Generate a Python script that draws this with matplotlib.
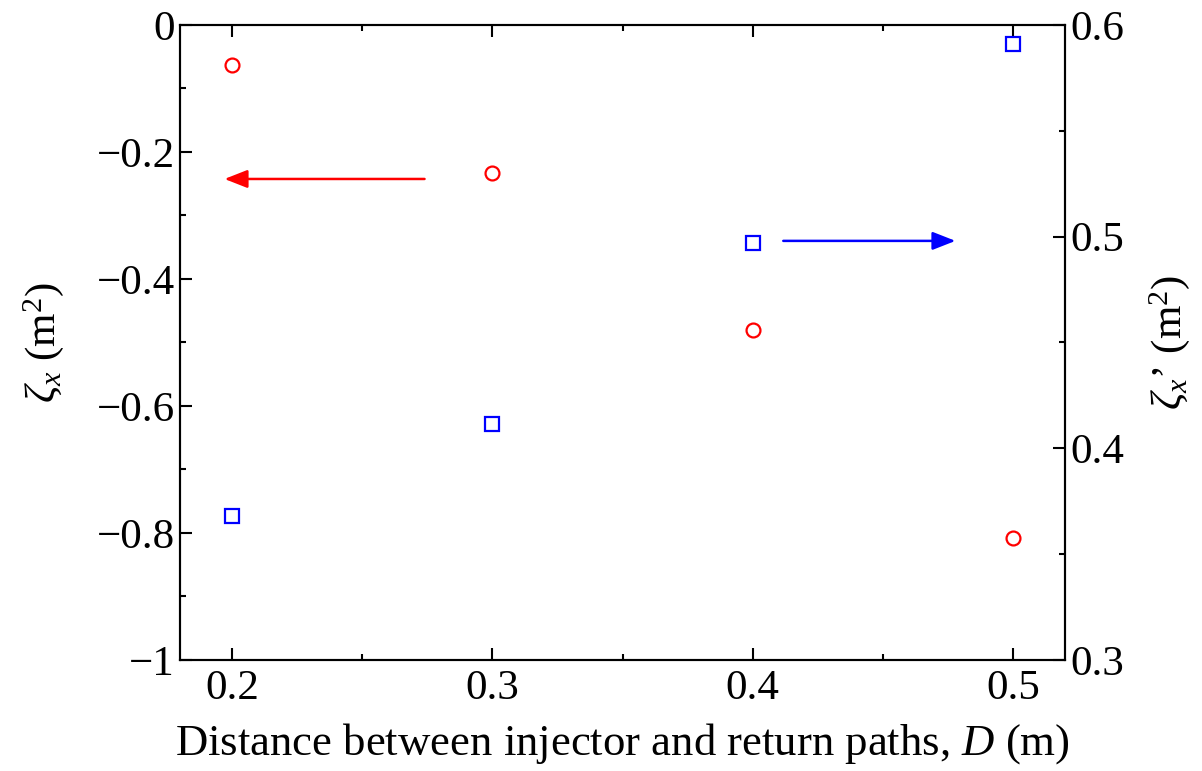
import matplotlib
matplotlib.use("Agg")
import matplotlib.pyplot as plt
from matplotlib.ticker import MultipleLocator

plt.rcParams['font.family'] = ['Liberation Serif', 'DejaVu Serif']
plt.rcParams['mathtext.fontset'] = 'custom'
plt.rcParams['mathtext.rm'] = 'Liberation Serif'
plt.rcParams['mathtext.it'] = 'Liberation Serif:italic'

# Data
distance = [0.2, 0.3, 0.4, 0.5]
zeta_x = [-0.063, -0.233, -0.480, -0.808]
zeta_x_prime = [0.368, 0.4115, 0.497, 0.591]

fig = plt.figure(figsize=(12.02, 7.71), dpi=100)
ax = fig.add_axes([0.1498, 0.144, 0.7362, 0.8236])
ax2 = ax.twinx()

ax.plot(distance, zeta_x, 'o', mfc='none', mec='red', ms=10, mew=1.6, ls='none')
ax2.plot(distance, zeta_x_prime, 's', mfc='none', mec='blue', ms=9.5, mew=1.6, ls='none')

ax.set_xlim(0.18, 0.52)
ax.set_ylim(-1, 0)
ax2.set_ylim(0.3, 0.6)

ax.xaxis.set_major_locator(MultipleLocator(0.1))
ax.xaxis.set_minor_locator(MultipleLocator(0.05))
ax.yaxis.set_major_locator(MultipleLocator(0.2))
ax.yaxis.set_minor_locator(MultipleLocator(0.1))
ax2.yaxis.set_major_locator(MultipleLocator(0.1))
ax2.yaxis.set_minor_locator(MultipleLocator(0.05))

ax.xaxis.set_major_formatter(plt.FuncFormatter(lambda v, p: f"{v:.1f}"))
ax.yaxis.set_major_formatter(plt.FuncFormatter(
    lambda v, p: "0" if abs(v) < 1e-9 else ("\u22121" if abs(v + 1) < 1e-9 else f"{v:.1f}".replace("-", "\u2212"))))
ax2.yaxis.set_major_formatter(plt.FuncFormatter(lambda v, p: f"{v:.1f}"))

for a in (ax, ax2):
    for s in a.spines.values():
        s.set_linewidth(1.5)
ax.tick_params(axis='both', which='both', direction='in', top=True, labelsize=31, width=1.5)
ax.tick_params(axis='y', which='both', right=False)
ax.tick_params(which='major', length=8.5)
ax.tick_params(which='minor', length=4.5)
ax.tick_params(axis='x', pad=7)
ax.tick_params(axis='y', pad=4)
ax2.tick_params(axis='y', which='both', direction='in', labelsize=31, width=1.5, pad=4)
ax2.tick_params(axis='y', which='major', length=8.5)
ax2.tick_params(axis='y', which='minor', length=4.5)

ax.set_xlabel(r'Distance between injector and return paths, $D$ (m)', fontsize=32.2, labelpad=9)
ax.set_ylabel(r'$\zeta_x$ (m$^2$)', fontsize=31, labelpad=22)
ax2.set_ylabel(r'$\zeta_x$' + '\u2019 (m$^2$)', fontsize=31, labelpad=16)

ax.annotate('', xy=(0.196, -0.2425), xytext=(0.275, -0.2425),
            arrowprops=dict(arrowstyle='-|>,head_length=1.4,head_width=0.55', color='red', lw=1.8))
ax2.annotate('', xy=(0.479, 0.498), xytext=(0.4107, 0.498),
             arrowprops=dict(arrowstyle='-|>,head_length=1.4,head_width=0.55', color='blue', lw=1.8))

fig.savefig('out.png', dpi=100)
